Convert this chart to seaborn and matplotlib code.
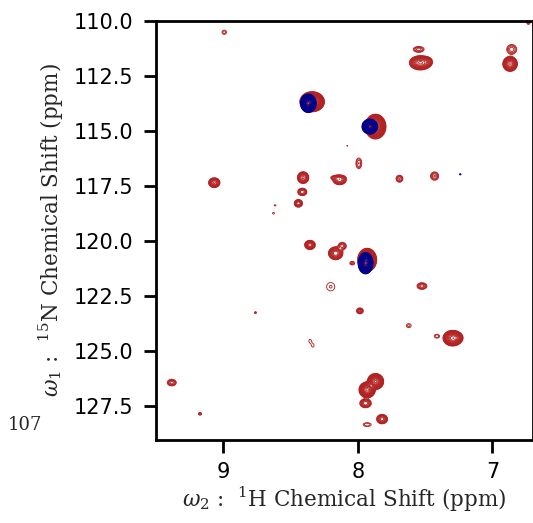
import numpy as np
import matplotlib
matplotlib.use('Agg')
import matplotlib.pyplot as plt
import seaborn as sns

# Peak list (ppm); heights relative to the lowest contour level
red_h1 = [8.993, 7.548, 7.536, 7.490, 6.857, 6.869, 6.733, 8.340, 7.869,
          8.079, 7.993, 9.067, 8.407, 8.136, 8.150, 7.691, 7.430, 8.413,
          8.442, 8.615, 8.627, 8.356, 8.165, 8.116, 7.931, 8.042, 8.202,
          7.524, 7.985, 8.761, 7.622, 7.413, 7.296, 7.270, 8.355, 8.335,
          9.383, 7.869, 7.931, 7.943, 9.173, 7.820, 7.931]
red_n15 = [110.51, 111.29, 111.90, 111.85, 111.29, 111.95, 110.08, 113.67, 114.80,
           115.67, 116.47, 117.35, 117.12, 117.23, 117.12, 117.17, 117.05, 117.77,
           118.29, 118.38, 118.74, 120.18, 120.56, 120.23, 120.86, 121.01, 122.08,
           122.05, 123.18, 123.26, 123.85, 124.33, 124.42, 124.40, 124.55, 124.75,
           126.44, 126.39, 126.77, 127.38, 127.86, 128.10, 128.35]
red_height = [1.6, 3, 40, 8, 3, 40, 2, 500, 500,
              1.1, 2.5, 12, 12, 10, 4, 3.5, 3.5, 6,
              8, 1.3, 1.3, 15, 20, 4, 500, 2, 1.4,
              4, 5, 1.5, 1.5, 1.8, 60, 15, 1.3, 1.3,
              4, 100, 100, 8, 2, 10, 1.8]
red_wh = [0.017, 0.027, 0.030, 0.020, 0.025, 0.020, 0.010, 0.026, 0.022,
          0.008, 0.016, 0.019, 0.019, 0.023, 0.030, 0.016, 0.019, 0.018,
          0.015, 0.008, 0.010, 0.017, 0.022, 0.018, 0.020, 0.015, 0.037,
          0.022, 0.014, 0.008, 0.020, 0.018, 0.025, 0.020, 0.012, 0.012,
          0.020, 0.020, 0.020, 0.021, 0.010, 0.019, 0.027]
red_wn = [0.10, 0.09, 0.12, 0.10, 0.15, 0.125, 0.06, 0.13, 0.16,
          0.04, 0.18, 0.10, 0.12, 0.10, 0.06, 0.10, 0.12, 0.09,
          0.085, 0.04, 0.05, 0.09, 0.12, 0.10, 0.15, 0.07, 0.23,
          0.09, 0.075, 0.05, 0.10, 0.08, 0.125, 0.10, 0.10, 0.10,
          0.09, 0.12, 0.12, 0.10, 0.05, 0.10, 0.08]

blue_h1 = [8.368, 7.911, 7.943, 7.239]
blue_n15 = [113.74, 114.80, 121.01, 116.97]
blue_height = [200, 200, 200, 1.5]
blue_wh = [0.018, 0.018, 0.017, 0.006]
blue_wn = [0.13, 0.105, 0.15, 0.03]

x_ticks = [9, 8, 7]
y_ticks = [110.0, 112.5, 115.0, 117.5, 120.0, 122.5, 125.0, 127.5]


def spectrum(xs, ys, hs, wx, wy, gx, gy):
    z = np.zeros((len(gy), len(gx)))
    for x0, y0, h, sx, sy in zip(xs, ys, hs, wx, wy):
        ex = np.exp(-0.5 * ((gx - x0) / sx) ** 2)
        ey = np.exp(-0.5 * ((gy - y0) / sy) ** 2)
        z += h * np.outer(ey, ex)
    return z


sns.set_theme(style='ticks')
plt.rcParams['font.family'] = ['DejaVu Sans']
plt.rcParams['mathtext.fontset'] = 'dejavuserif'

gx = np.linspace(6.6, 9.6, 1600)
gy = np.linspace(109.5, 129.5, 2000)
levels = 1.0 * 1.35 ** np.arange(22)

fig = plt.figure(figsize=(5.33, 5.23), dpi=100)
ax = fig.add_axes([0.2927, 0.1587, 0.707, 0.8011])

z_red = spectrum(red_h1, red_n15, red_height, red_wh, red_wn, gx, gy)
z_blue = spectrum(blue_h1, blue_n15, blue_height, blue_wh, blue_wn, gx, gy)
ax.contour(gx, gy, z_red, levels=levels, colors='#b22222', linewidths=0.65)
ax.contour(gx, gy, z_blue, levels=levels, colors='#00008b', linewidths=0.65)

ax.set_xlim(9.5, 6.7)
ax.set_ylim(129.05, 110.0)
ax.set_xticks(x_ticks)
ax.set_yticks(y_ticks)
ax.set_yticklabels([f'{v:.1f}' for v in y_ticks])
ax.tick_params(axis='both', direction='out', length=9, width=2,
               labelsize=15, colors='black', pad=7)
for s in ax.spines.values():
    s.set_linewidth(2)
    s.set_color('black')

serif = ['DejaVu Serif']
ax.set_xlabel(r'$\omega_2$ :  $^{1}$H Chemical Shift (ppm)', fontsize=15.5,
              family=serif, labelpad=2)
ax.set_ylabel(r'$\omega_1$ :  $^{15}$N Chemical Shift (ppm)', fontsize=15.5,
              family=serif, labelpad=6)
fig.text(0.047, 0.187, '107', fontsize=13, family=serif, ha='center', va='center')

fig.savefig('out.png', dpi=100)
